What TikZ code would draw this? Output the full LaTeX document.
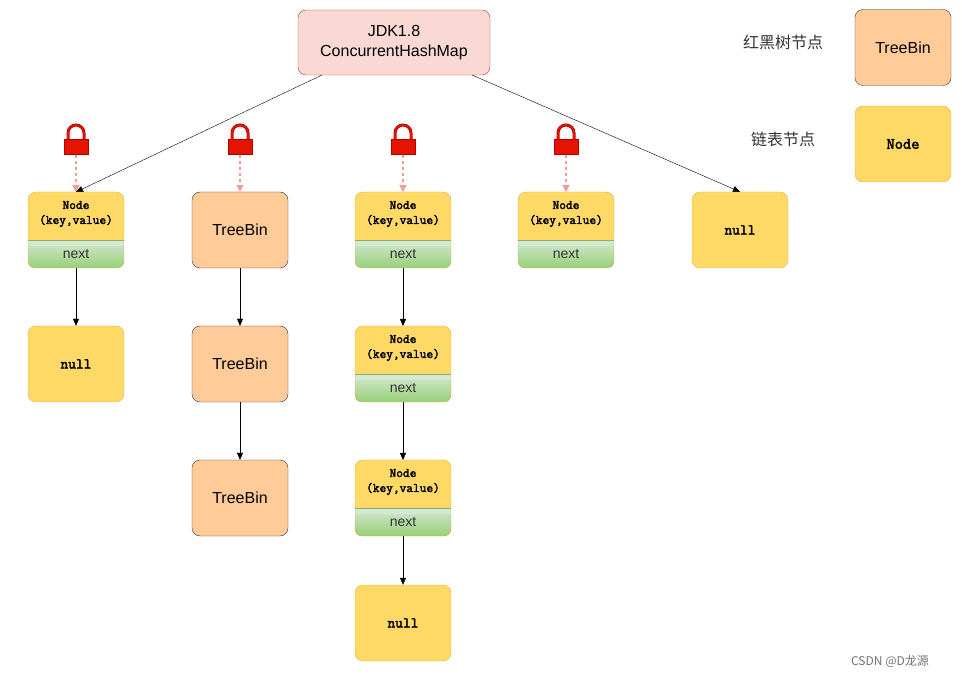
\documentclass[tikz,border=0pt]{standalone}
\usepackage{fontspec}
\setmainfont{Liberation Sans}
\newfontfamily\cjk{Noto Sans CJK SC}
\newfontfamily\mono{Latin Modern Mono}[AutoFakeBold=2.5]
\usetikzlibrary{arrows.meta}
\definecolor{yel}{HTML}{FFD966}\definecolor{yelb}{HTML}{D6B656}
\definecolor{ora}{HTML}{FFCC99}\definecolor{orab}{HTML}{36393D}
\definecolor{grt}{HTML}{D5E8D4}\definecolor{grb}{HTML}{97D077}\definecolor{grl}{HTML}{82B366}
\definecolor{jf}{HTML}{FAD9D5}\definecolor{jb}{HTML}{AE4132}
\definecolor{lk}{HTML}{E51400}\definecolor{lkb}{HTML}{B20000}\definecolor{da}{HTML}{F19C99}
\begin{document}
\begin{tikzpicture}[x=1pt,y=-1pt,
 yb/.style={draw=yelb,fill=yel,rounded corners=8pt,minimum width=96pt,minimum height=76pt,font=\mono\bfseries\fontsize{15}{17}\selectfont},
 tb/.style={draw=orab,fill=ora,rounded corners=8pt,minimum width=96pt,minimum height=76pt,font=\fontsize{16}{19}\selectfont},
 arr/.style={-{Triangle[length=7pt,width=6pt]},black},
 lockarr/.style={-{Triangle[length=7pt,width=7pt]},da,dashed,line width=1.3pt}]
\useasboundingbox (0,0) rectangle (962,676);
\newcommand{\nodebox}[3]{% name, cx, top
 \begin{scope}[shift={(#2,#3)}]
 \fill[yel,rounded corners=8pt] (-48,0) rectangle (48,50);
 \shade[top color=grt,bottom color=grb,rounded corners=6pt] (-48,48) rectangle (48,76);
 \fill[yel] (-48,40) rectangle (48,48);
 \fill[grt] (-48,48) rectangle (48,54);
 \draw[grl] (-48,48) -- (48,48);
 \draw[yelb,rounded corners=8pt] (-48,0) rectangle (48,76);
 \end{scope}
 \node[font=\mono\bfseries\fontsize{13}{15}\selectfont,align=center] at (#2,#3+22) {Node\\(key,value)};
 \node[font=\fontsize{14}{16}\selectfont,text=black!80] at (#2,#3+62) {next};
 \coordinate (#1t) at (#2,#3);
 \coordinate (#1b) at (#2,#3+76);}
\newcommand{\lock}[1]{%
 \draw[lkb,line width=3pt] (#1-8,141) -- (#1-8,133) arc[start angle=180,end angle=360,radius=8] -- (#1+8,141);
 \draw[lk,line width=1.6pt] (#1-8,141) -- (#1-8,133) arc[start angle=180,end angle=360,radius=8] -- (#1+8,141);
 \draw[lkb,fill=lk] (#1-12,139) rectangle (#1+12,154);
 \coordinate (lk#1) at (#1,155);}
\node[draw=jb,fill=jf,rounded corners=8pt,minimum width=192pt,minimum height=65pt,align=center,font=\fontsize{16}{20}\selectfont] (jdk) at (394,42.5) {JDK1.8\\ConcurrentHashMap};
\nodebox{a}{76}{192}
\node[yb] (an) at (76,364) {null};
\node[tb] (b1) at (240,230) {TreeBin};
\node[tb] (b2) at (240,364) {TreeBin};
\node[tb] (b3) at (240,498) {TreeBin};
\nodebox{c}{403}{192}
\nodebox{d}{403}{326}
\nodebox{e}{403}{460}
\node[yb] (cn) at (403,623) {null};
\nodebox{f}{566}{192}
\node[yb] (gn) at (740,230) {null};
\node[tb] (lt) at (903,47.5) {TreeBin};
\node[yb,font=\mono\bfseries\fontsize{16}{18}\selectfont] (ln) at (903,144) {Node};
\node[font=\cjk\fontsize{16}{19}\selectfont,text=black!80] (l1) at (783,42) {红黑树节点};
\node[font=\cjk\fontsize{16}{19}\selectfont,text=black!80] (l2) at (783,139) {链表节点};
\node[font=\cjk\fontsize{12}{14}\selectfont,text=black!55] (wm) at (890,661) {CSDN @D龙源};
\foreach \x in {76,240,403,566}{\lock{\x}}
\draw[lockarr] (lk76) -- (at);
\draw[lockarr] (lk240) -- (b1.north);
\draw[lockarr] (lk403) -- (ct);
\draw[lockarr] (lk566) -- (ft);
\draw[arr] (322,75) -- (at);
\draw[arr] (472,75) -- (gn.north);
\draw[arr] (ab) -- (an);
\draw[arr] (b1) -- (b2);
\draw[arr] (b2) -- (b3);
\draw[arr] (cb) -- (dt);
\draw[arr] (db) -- (et);
\draw[arr] (eb) -- (cn);
\end{tikzpicture}
\end{document}
